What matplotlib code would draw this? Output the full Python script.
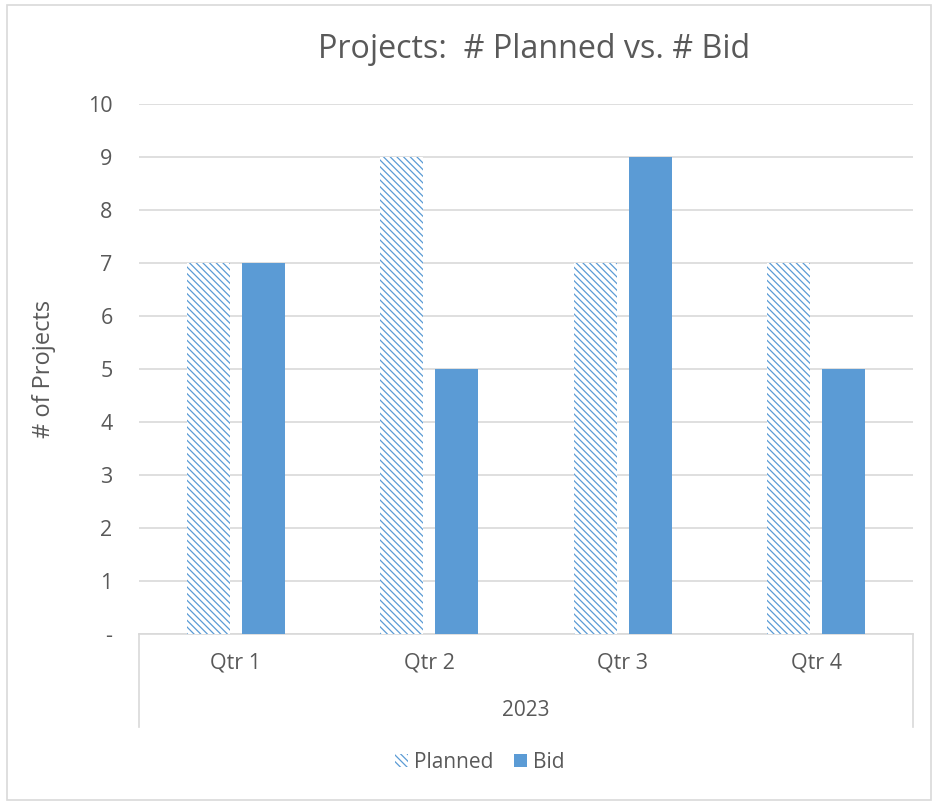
import matplotlib.pyplot as plt
from matplotlib.patches import Patch, Rectangle
from matplotlib.lines import Line2D
import numpy as np

quarters = ["Qtr 1", "Qtr 2", "Qtr 3", "Qtr 4"]
year_label = "2023"
planned = [7, 9, 7, 7]
bid = [7, 5, 9, 5]
y_ticks = [0, 1, 2, 3, 4, 5, 6, 7, 8, 9, 10]
y_tick_labels = ["-", "1", "2", "3", "4", "5", "6", "7", "8", "9", "10"]

blue = "#5B9BD5"
text_gray = "#595959"
grid_gray = "#D9D9D9"

plt.rcParams['font.family'] = ['Open Sans', 'DejaVu Sans']
plt.rcParams['hatch.linewidth'] = 0.9

W, H = 933, 801
fig = plt.figure(figsize=(W / 100, H / 100), dpi=100)

# plot area in pixels: x 139..913, y 104..634
ax = fig.add_axes([139 / W, 1 - 634 / H, 774 / W, 530 / H])

x = np.arange(len(quarters))
width = 0.223
off = 0.143
hatch = "\\\\\\\\\\"
ax.bar(x - off, planned, width, facecolor="white", edgecolor=blue,
       linewidth=0, hatch=hatch, zorder=3)
ax.bar(x + off, bid, width, color=blue, zorder=3)

ax.set_xlim(-0.5, len(quarters) - 0.5)
ax.set_ylim(0, 10)
ax.set_yticks(y_ticks)
ax.set_yticklabels(y_tick_labels)
ax.set_xticks([])
ax.tick_params(axis='y', length=0, pad=19, labelsize=15.5, labelcolor=text_gray)
ax.yaxis.grid(True, color=grid_gray, linewidth=1.2, zorder=0)
ax.set_axisbelow(True)
for s in ["left", "right", "top"]:
    ax.spines[s].set_visible(False)
ax.spines["bottom"].set_color(grid_gray)
ax.spines["bottom"].set_linewidth(1.2)

# multi-level category axis box
box_depth = -(727 - 634) / 530
for xv in (0, 1):
    ax.add_line(Line2D([xv, xv], [0, box_depth], transform=ax.transAxes,
                       color=grid_gray, linewidth=1.2, clip_on=False))
trans = ax.get_xaxis_transform()
for i, q in enumerate(quarters):
    ax.text(i, -(663 - 634) / 530, q, transform=trans, ha="center", va="center",
            fontsize=15.5, color=text_gray)
ax.text(0.5, -(710 - 634) / 530, year_label, transform=ax.transAxes,
        ha="center", va="center", fontsize=15, color=text_gray)

ax.set_ylabel("# of Projects", fontsize=17, color=text_gray)
ax.yaxis.set_label_coords(-(139 - 56) / 774, 0.5)

fig.text(534 / W, 1 - 49 / H, "Projects:  # Planned vs. # Bid", ha="center",
         va="center", fontsize=23.2, color=text_gray)

handles = [Patch(facecolor="white", edgecolor=blue, linewidth=0, hatch=hatch),
           Patch(facecolor=blue)]
fig.legend(handles, ["Planned", "Bid"], loc="center", bbox_to_anchor=(480 / W, 1 - 762 / H),
           ncol=2, frameon=False, fontsize=15, handlelength=0.6, handleheight=0.6,
           handletextpad=0.3, columnspacing=1.0, labelcolor=text_gray)

# chart border
fig.add_artist(Rectangle((7 / W, 1 - 800 / H), (931 - 7) / W, (800 - 5) / H,
                         transform=fig.transFigure, fill=False,
                         edgecolor=grid_gray, linewidth=1.2))

fig.savefig("out.png", dpi=100)
